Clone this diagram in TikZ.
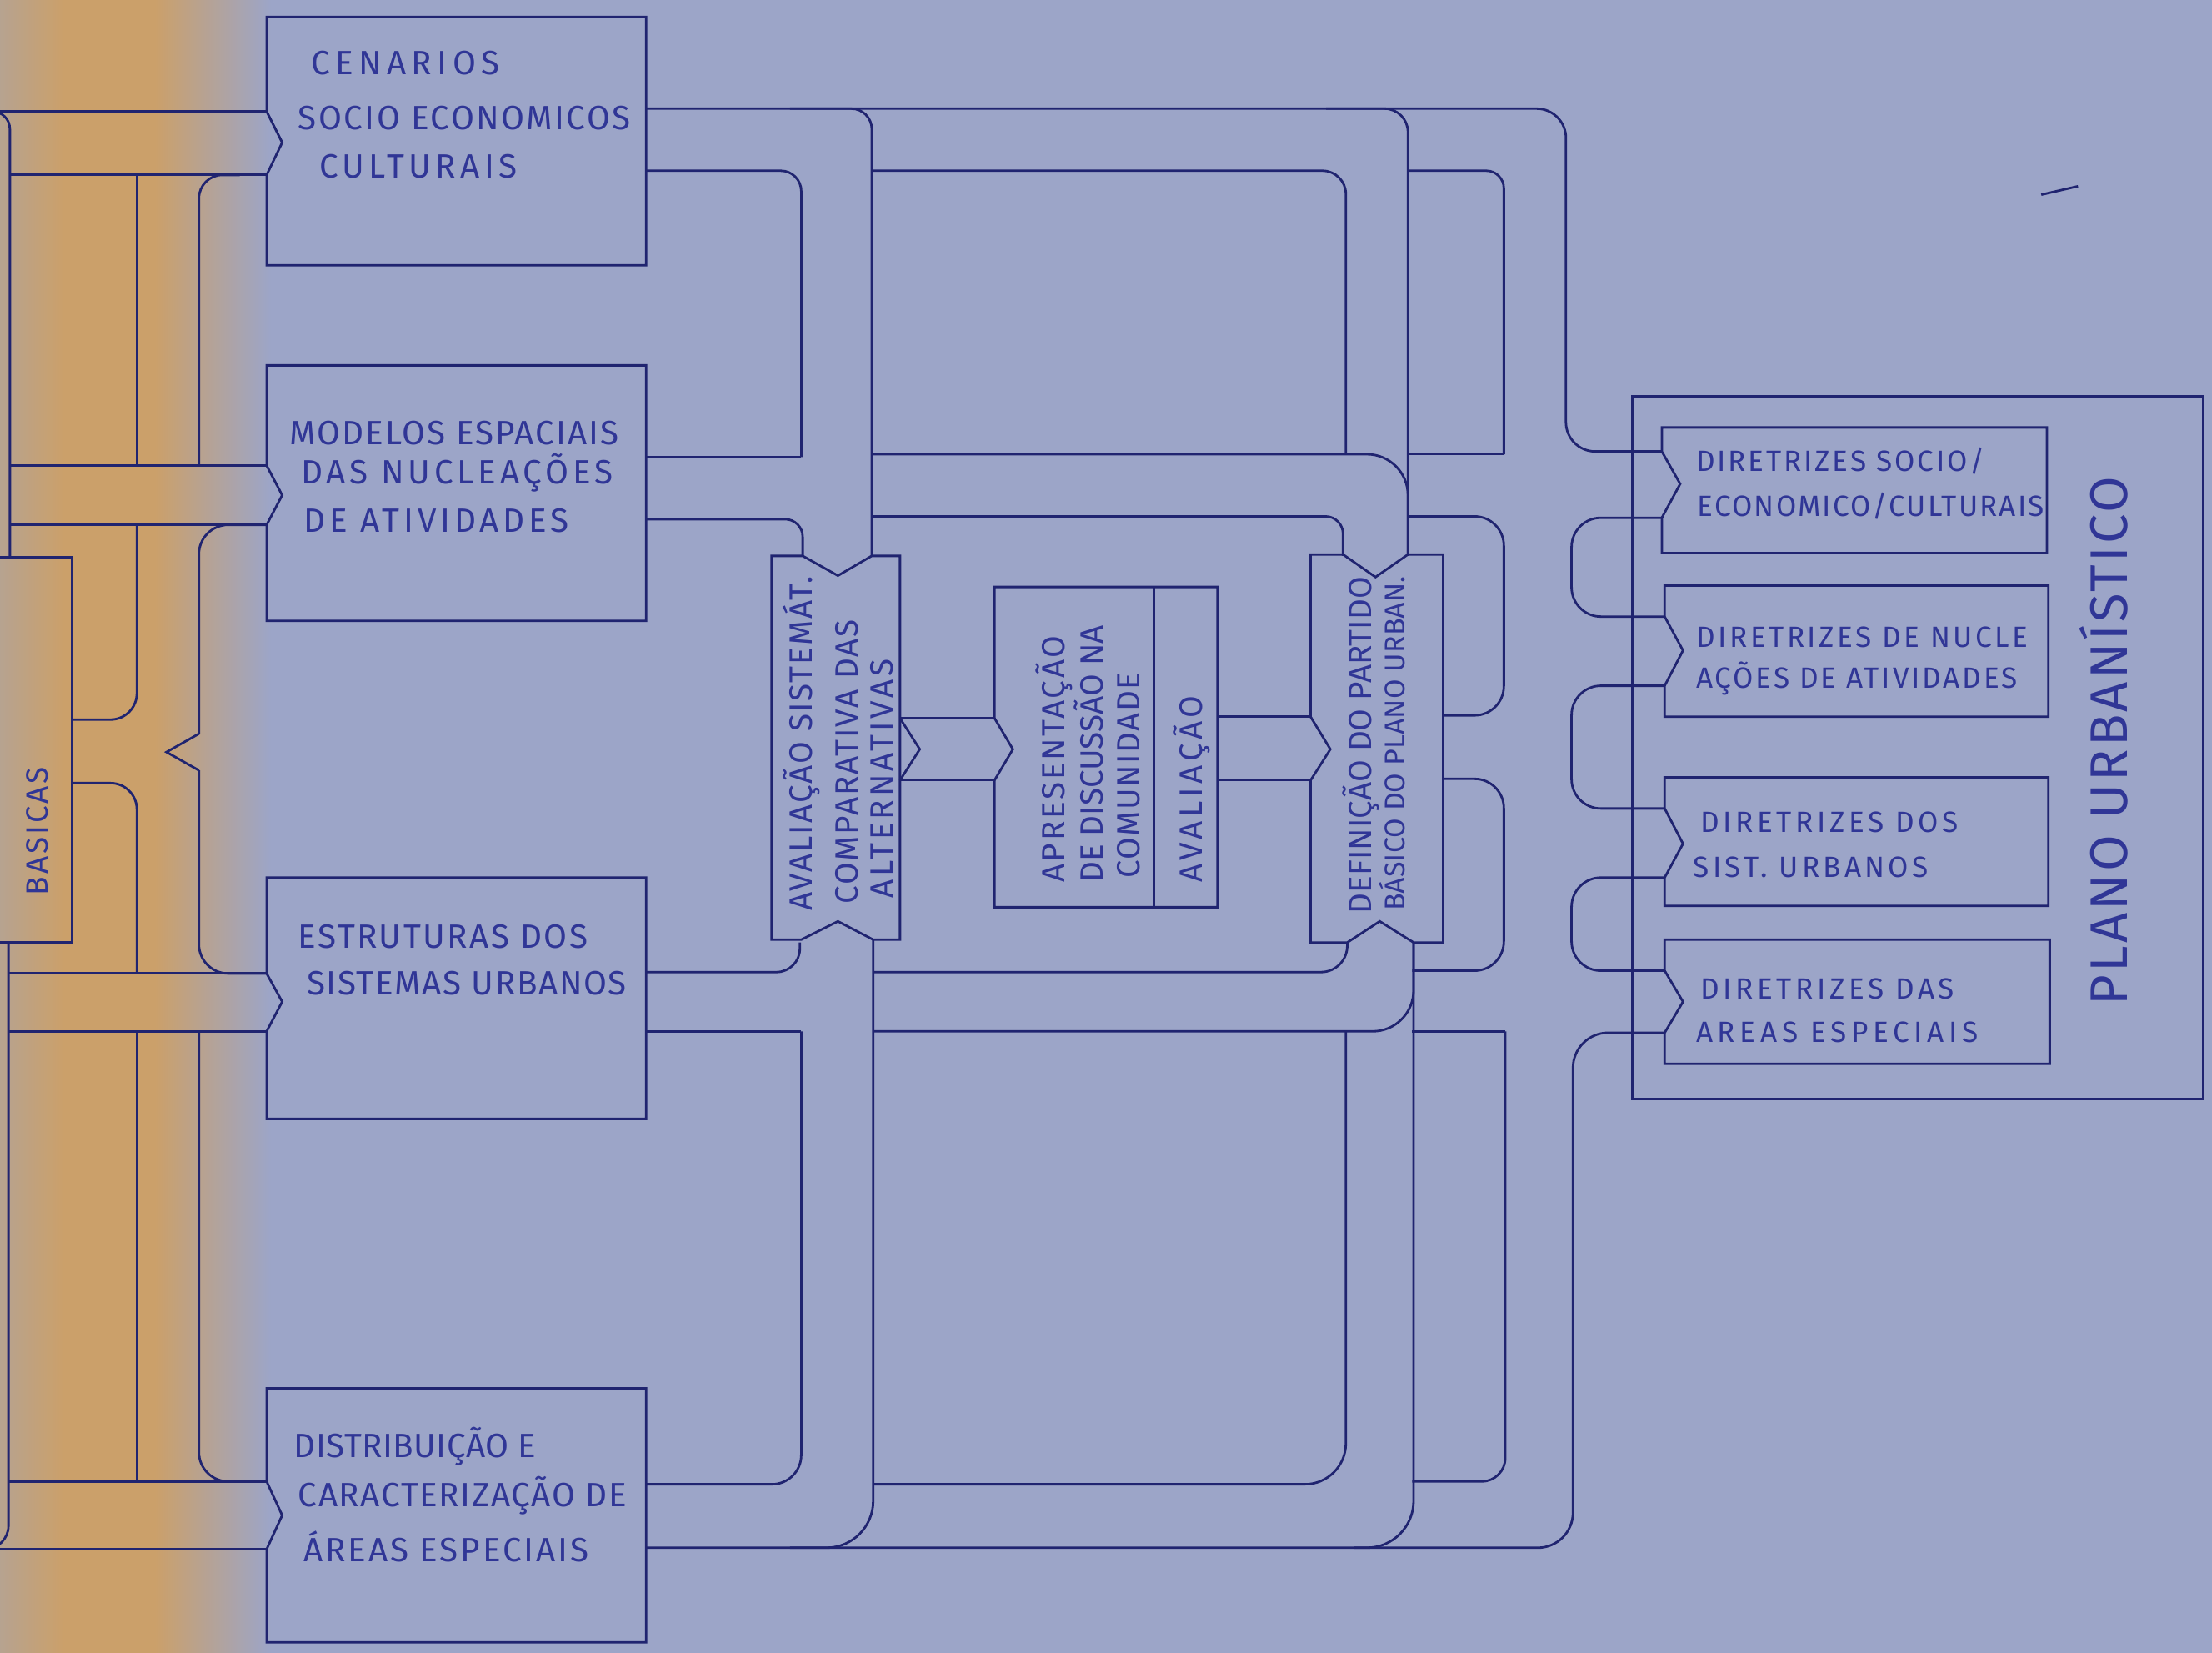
\documentclass[tikz,border=0pt]{standalone}
\usepackage{fontspec}
\usepackage{xcolor}
\setmainfont{Fira Sans}
\definecolor{paperblue}{RGB}{156,165,200}
\definecolor{paperorange}{RGB}{203,160,106}
\definecolor{papergrey}{RGB}{180,163,148}
\definecolor{inkblue}{RGB}{32,36,112}
\definecolor{pencilblue}{RGB}{48,54,150}
\tikzset{
  wall/.style={draw=inkblue,line width=0.8pt,rounded corners=#1},
  wall/.default=7pt,
  rim/.style={draw=inkblue,line width=0.8pt,line join=miter},
  lettering/.style={text=pencilblue,inner sep=0pt,anchor=base west},
  boxtext/.style={lettering,font=\fontsize{11.5}{13}\selectfont\addfontfeature{LetterSpace=#1}},
  boxtext/.default=0,
  sidetext/.style={lettering,font=\fontsize{10}{12}\selectfont\addfontfeature{LetterSpace=#1}},
  sidetext/.default=0,
  uptext/.style={lettering,rotate=90,font=\fontsize{11}{13}\selectfont\addfontfeature{LetterSpace=#1}},
  uptext/.default=0
}
\begin{document}
\begin{tikzpicture}[x=0.16926mm,y=-0.16926mm]
  \useasboundingbox (0,0) rectangle (1568,1171);
  \clip (0,0) rectangle (1568,1171);
  \fill[paperblue] (-5,-5) rectangle (1573,1176);
  \shade[left color=papergrey,right color=paperorange] (-5,-5) rectangle (45,1176);
  \fill[paperorange] (45,-5) rectangle (110,1176);
  \shade[left color=paperorange,right color=paperblue] (110,-5) rectangle (192,1176);

  \draw[wall] (0,79) -- (189,79);
  \draw[wall] (7,124) -- (189,124);
  \draw[wall=6pt] (-10,79) -- (7,79) -- (7,395);
  \draw[wall] (7,330) -- (189,330);
  \draw[wall] (7,372) -- (189,372);
  \draw[wall] (97,124) -- (97,330);
  \draw[wall=9pt] (97,372) |- (51,510);
  \draw[wall=9pt] (51,555) -| (97,690);
  \draw[wall=8pt] (170,124) -| (141,330);
  \draw[wall=10pt] (189,372) -| (141,520);
  \draw[rim] (141,520) -- (118,533) -- (141,546);
  \draw[wall=10pt] (141,546) |- (189,690);
  \draw[wall] (6,690) -- (189,690);
  \draw[wall] (6,731) -- (189,731);
  \draw[wall] (97,731) -- (97,1050);
  \draw[wall=10pt] (141,731) |- (189,1050);
  \draw[wall] (6,1050) -- (189,1050);
  \draw[wall] (0,1098) -- (189,1098);
  \draw[wall=8pt] (6,668) -- (6,1098) -- (-10,1098);
  \draw[rim] (-10,395) -- (51,395) -- (51,668) -- (-10,668);

  \draw[rim] (189,79) -- (189,12) -- (458,12) -- (458,188) -- (189,188) -- (189,124) -- (200,101) -- cycle;
  \draw[rim] (189,330) -- (189,259) -- (458,259) -- (458,440) -- (189,440) -- (189,372) -- (200,351) -- cycle;
  \draw[rim] (189,690) -- (189,622) -- (458,622) -- (458,793) -- (189,793) -- (189,731) -- (200,710) -- cycle;
  \draw[rim] (189,1050) -- (189,984) -- (458,984) -- (458,1164) -- (189,1164) -- (189,1098) -- (200,1074) -- cycle;

  \draw[wall=10pt] (458,77) -- (1110,77) -- (1110,320) -- (1178,320);
  \draw[wall] (560,77) -| (618,394);
  \draw[wall] (458,121) -| (568,324);
  \draw[rim] (568,324) -- (458,324);
  \draw[wall=6pt] (458,368) -| (569,394);
  \draw[wall=8pt] (618,121) -| (954,322);
  \draw[wall=14pt] (618,322) -| (998,394);
  \draw[wall=8pt] (940,77) -| (998,394);
  \draw[wall=6pt] (618,366) -| (952,394);
  \draw[wall=6pt] (998,121) -| (1066,322);
  \draw[rim] (1066,322) -- (998,322);
  \draw[wall=10pt] (998,366) -- (1066,366) -- (1066,507) -- (1023,507);
  \draw[wall=10pt] (1023,552) -- (1066,552) -- (1066,688) -- (1001,688);
  \draw[rim] (1001,731) -- (1067,731);
  \draw[wall=8pt] (1067,731) |- (1001,1050);

  \draw[wall=10pt] (1178,367) -- (1114,367) -- (1114,437) -- (1180,437);
  \draw[wall=10pt] (1180,486) -- (1114,486) -- (1114,573) -- (1180,573);
  \draw[wall=10pt] (1180,622) -- (1114,622) -- (1114,688) -- (1180,688);
  \draw[wall=12pt] (1180,732) -- (1115,732) -- (1115,1097) -- (458,1097);

  \draw[wall=8pt] (458,689) -| (567,668);
  \draw[rim] (458,731) -- (568,731);
  \draw[wall=10pt] (568,731) |- (458,1052);
  \draw[wall=16pt] (619,666) |- (560,1097);
  \draw[wall=9pt] (619,689) -| (955,668);
  \draw[wall=14pt] (619,731) -| (1002,668);
  \draw[wall=14pt] (954,731) |- (619,1052);
  \draw[wall=16pt] (1002,668) |- (960,1097);

  \draw[rim] (547,394) -- (569,394) -- (594,408) -- (618,394) -- (638,394) -- (638,666) -- (619,666) -- (594,653) -- (568,666) -- (547,666) -- cycle;
  \draw[rim] (638,509) -- (652,531) -- (638,553);
  \draw[rim] (638,509) -- (705,509);
  \draw[rim] (638,553) -- (705,553);
  \draw[rim] (705,509) -- (705,416) -- (863,416) -- (863,643) -- (705,643) -- (705,553) -- (718,531) -- cycle;
  \draw[rim] (818,416) -- (818,643);
  \draw[rim] (863,508) -- (929,508);
  \draw[rim] (863,553) -- (929,553);
  \draw[rim] (929,508) -- (929,393) -- (952,393) -- (975,409) -- (998,393) -- (1023,393) -- (1023,668) -- (1002,668) -- (978,653) -- (955,668) -- (929,668) -- (929,553) -- (943,531) -- cycle;

  \draw[rim] (1157,281) rectangle (1562,779);
  \draw[rim] (1178,320) -- (1178,303) -- (1451,303) -- (1451,392) -- (1178,392) -- (1178,367) -- (1191,343) -- cycle;
  \draw[rim] (1180,437) -- (1180,415) -- (1452,415) -- (1452,508) -- (1180,508) -- (1180,486) -- (1193,461) -- cycle;
  \draw[rim] (1180,573) -- (1180,551) -- (1452,551) -- (1452,642) -- (1180,642) -- (1180,622) -- (1193,598) -- cycle;
  \draw[rim] (1180,688) -- (1180,666) -- (1453,666) -- (1453,754) -- (1180,754) -- (1180,732) -- (1193,710) -- cycle;
  \draw[rim] (1447,138) -- (1473,132);

  \node[boxtext=16] (cenA) at (220,53) {CENARIOS};
  \node[boxtext=6] (cenB) at (211,92) {SOCIO ECONOMICOS};
  \node[boxtext=13] (cenC) at (226,126) {CULTURAIS};
  \node[boxtext=5] (modA) at (205,315) {MODELOS ESPACIAIS};
  \node[boxtext=12] (modB) at (213,343) {DAS NUCLEAÇÕES};
  \node[boxtext=12] (modC) at (215,377) {DE ATIVIDADES};
  \node[boxtext=6] (estA) at (211,672) {ESTRUTURAS DOS};
  \node[boxtext=4] (estB) at (217,705) {SISTEMAS URBANOS};
  \node[boxtext=1] (disA) at (208,1033) {DISTRIBUIÇÃO E};
  \node[boxtext=4] (disB) at (211,1068) {CARACTERIZAÇÃO DE};
  \node[boxtext=7] (disC) at (215,1107) {ÁREAS ESPECIAIS};

  \node[sidetext=8] (socA) at (1202,334) {DIRETRIZES SOCIO/};
  \node[sidetext=6] (socB) at (1203,366) {ECONOMICO/CULTURAIS};
  \node[sidetext=10] (nucA) at (1202,459) {DIRETRIZES DE NUCLE};
  \node[sidetext=8] (nucB) at (1202,488) {AÇÕES DE ATIVIDADES};
  \node[sidetext=13] (sisA) at (1205,590) {DIRETRIZES DOS};
  \node[sidetext=12] (sisB) at (1200,622) {SIST. URBANOS};
  \node[sidetext=13] (areA) at (1205,708) {DIRETRIZES DAS};
  \node[sidetext=16] (areB) at (1202,739) {AREAS ESPECIAIS};

  \node[uptext=5] (avaA) at (576,646) {AVALIAÇÃO SISTEMÁT.};
  \node[uptext=5] (avaB) at (608,641) {COMPARATIVA DAS};
  \node[uptext=10] (avaC) at (633,637) {ALTERNATIVAS};
  \node[uptext=7] (aprA) at (755,626) {APRESENTAÇÃO};
  \node[uptext] (aprB) at (782,626) {DE DISCUSSÃO NA};
  \node[uptext=4] (aprC) at (808,623) {COMUNIDADE};
  \node[uptext=12] (avlA) at (852,626) {AVALIAÇÃO};
  \node[uptext] (defA) at (972,648) {DEFINIÇÃO DO PARTIDO};
  \node[uptext,font=\fontsize{9.7}{12}\selectfont] (defB) at (996,646) {BÁSICO DO PLANO URBAN.};
  \node[uptext=5,font=\fontsize{18}{20}\selectfont\addfontfeature{LetterSpace=5}] (plano) at (1508,713) {PLANO URBANÍSTICO};
  \node[uptext,font=\fontsize{10.5}{12}\selectfont\addfontfeature{LetterSpace=8}] (basicas) at (34,635) {BASICAS};
\end{tikzpicture}
\end{document}
